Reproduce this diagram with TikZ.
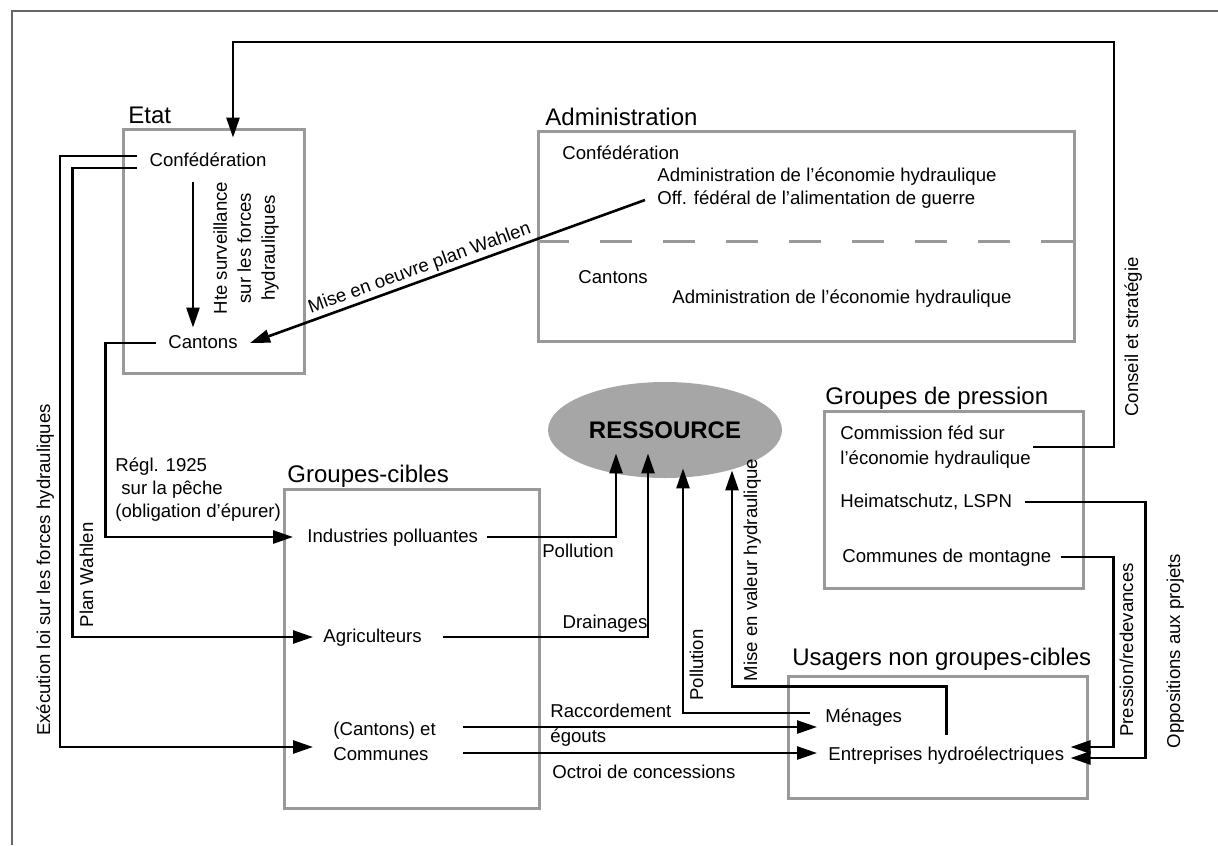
\documentclass[tikz,border=0pt]{standalone}
\usepackage{fontspec}
\setmainfont{Liberation Sans}
\usetikzlibrary{arrows.meta, shapes.geometric}

\begin{document}
\begin{tikzpicture}[x=0.5pt, y=-0.5pt,
  box/.style={draw=black!40, line width=1.3pt, inner sep=0pt, anchor=north west},
  title/.style={anchor=base west, inner sep=0pt, font=\fontsize{12}{14}\selectfont},
  txt/.style={inner sep=0pt, font=\fontsize{9.3}{12.5}\selectfont, text height=7pt, text depth=2pt},
  mtxt/.style={inner sep=0pt, font=\fontsize{9.3}{12.5}\selectfont, align=left},
  vlbl/.style={txt, rotate=90},
  conn/.style={line width=1.3pt},
  arr/.style={conn, -{Triangle[length=10pt, width=6.5pt]}}]
\useasboundingbox (0, 0) rectangle (1218, 845);
\draw [black!60, line width=1pt] (12, 845) -- (12, 11) -- (1218, 11);

\node [box, minimum width=90.5pt, minimum height=122pt] (etat) at (122, 128) {};
\node [box, minimum width=268pt, minimum height=105pt] (admin) at (537, 130) {};
\node [box, minimum width=129.5pt, minimum height=88.5pt] (press) at (823, 410) {};
\node [box, minimum width=149.5pt, minimum height=61pt] (usag) at (787, 675) {};
\node [box, minimum width=127.5pt, minimum height=159.5pt] (cible) at (283, 488) {};
\draw [black!40, line width=1.3pt, dash pattern=on 16pt off 15.5pt] ([yshift=-2.5pt]admin.west) -- ([yshift=-2.5pt]admin.east);

\node [title] (etatT) at ([xshift=3pt, yshift=2pt]etat.north west) {Etat};
\node [title] (adminT) at ([xshift=4pt, yshift=2pt]admin.north west) {Administration};
\node [title] (pressT) at ([xshift=1pt, yshift=3pt]press.north west) {Groupes de pression};
\node [title] (usagT) at ([xshift=2.5pt, yshift=5pt]usag.north west) {Usagers non groupes-cibles};
\node [title] (cibleT) at ([xshift=2pt, yshift=3pt]cible.north west) {Groupes-cibles};

\node [txt] (conf) at (208, 162) {Confédération};
\node [txt] (cantE) at (203, 343) {Cantons};
\node [mtxt, align=center, rotate=90, font=\fontsize{9.3}{12}\selectfont] (surv) at (246, 248) {Hte surveillance\\sur les forces\\hydrauliques};

\node [txt, anchor=west] (aConf) at (562, 155) {Confédération};
\node [txt, anchor=west] (aEco) at (657, 177) {Administration de l'économie hydraulique};
\node [txt, anchor=west] (aOff) at (657, 200) {Off. fédéral de l'alimentation de guerre};
\node [txt, anchor=west] (aCant) at (578, 278) {Cantons};
\node [txt, anchor=west] (aEco2) at (672, 298) {Administration de l'économie hydraulique};

\node [ellipse, fill=black!35, minimum width=117pt, minimum height=48pt, inner sep=0pt, font=\bfseries\fontsize{12}{14}\selectfont] (res) at (665, 430) {RESSOURCE};

\node [mtxt, anchor=west] (comm) at (840, 447) {Commission féd sur\\l'économie hydraulique};
\node [txt, anchor=west] (heim) at (840, 502) {Heimatschutz, LSPN};
\node [txt, anchor=west] (cmont) at (842, 557) {Communes de montagne};

\node [txt, anchor=west] (men) at (825, 717) {Ménages};
\node [txt, anchor=west] (entr) at (828, 755) {Entreprises hydroélectriques};

\node [txt, anchor=west] (ind) at (307, 537) {Industries polluantes};
\node [txt, anchor=west] (agr) at (323, 637) {Agriculteurs};
\node [mtxt, anchor=west] (ccom) at (333, 741) {(Cantons) et\\Communes};

\draw [arr] ([xshift=-7.5pt, yshift=-5.5pt]conf.south) -- ([xshift=-5pt, yshift=3pt]cantE.north);
\draw [arr] ([xshift=1pt]comm.east) -- ++(81, 0) -- ++(0, -405) -| ([xshift=12.5pt, yshift=7.5pt]conf.north);
\draw [arr] ([xshift=-6pt]aOff.west) -- ([xshift=6pt]cantE.east)
  node [txt, sloped, above=1pt, pos=0.56] (mise) {Mise en oeuvre plan Wahlen};
\draw [arr] ([xshift=-6pt, yshift=3pt]conf.west) -- ++(-77, 0) |- ([xshift=-10pt, yshift=-3pt]ccom.west);
\draw [arr] ([xshift=-6pt, yshift=-3pt]conf.west) -- ++(-64.5, 0) |- ([xshift=-5pt]agr.west);
\draw [arr] ([xshift=-5.75pt]cantE.west) -- ++(-51, 0) |- ([xshift=-7pt]ind.west);
\draw [arr] ([xshift=4.5pt]ind.east) -| ([xshift=-24.5pt, yshift=12.5pt]res.south);
\draw [arr] ([xshift=10.5pt]agr.east) -| ([xshift=-8.5pt, yshift=12.5pt]res.south);
\draw [arr] ([xshift=-7.5pt, yshift=2pt]men.west) -| ([xshift=9pt, yshift=5pt]res.south);
\draw [arr] ([yshift=5.5pt]entr.north) -- ++(0, -48) -| ([xshift=33.5pt, yshift=4pt]res.south);
\draw [arr] ([xshift=13.5pt, yshift=7pt]ccom.east) -- ([xshift=-4pt, yshift=-5pt]men.west);
\draw [arr] ([xshift=13.5pt, yshift=-6pt]ccom.east) -- ([xshift=-5.5pt, yshift=1pt]entr.west);
\draw [arr] ([xshift=6.5pt]heim.east) -- ++(120, 0) |- ([xshift=3pt, yshift=-1.5pt]entr.east);
\draw [arr] ([xshift=4.5pt]cmont.east) -- ++(53, 0) |- ([xshift=3pt, yshift=4pt]entr.east);

\node [vlbl] (execL) at (45, 570) {Exécution loi sur les forces hydrauliques};
\node [vlbl] (planL) at (88, 575) {Plan Wahlen};
\node [mtxt, anchor=west, font=\fontsize{9.3}{11.5}\selectfont] (reglL) at (115, 490) {Régl. 1925\\\hspace{3pt}sur la pêche\\(obligation d'épurer)};
\node [txt] (pollL) at (578, 552) {Pollution};
\node [txt] (drainL) at (605, 623) {Drainages};
\node [vlbl] (poll2L) at (698, 665) {Pollution};
\node [vlbl] (valL) at (752, 570) {Mise en valeur hydraulique};
\node [mtxt, anchor=west] (raccL) at (550, 725.5) {Raccordement\\égouts};
\node [txt, anchor=west] (octL) at (552, 773) {Octroi de concessions};
\node [vlbl] (consL) at (1133, 337) {Conseil et stratégie};
\node [vlbl] (redL) at (1128, 650) {Pression/redevances};
\node [vlbl] (oppL) at (1175, 651) {Oppositions aux projets};
\end{tikzpicture}
\end{document}
